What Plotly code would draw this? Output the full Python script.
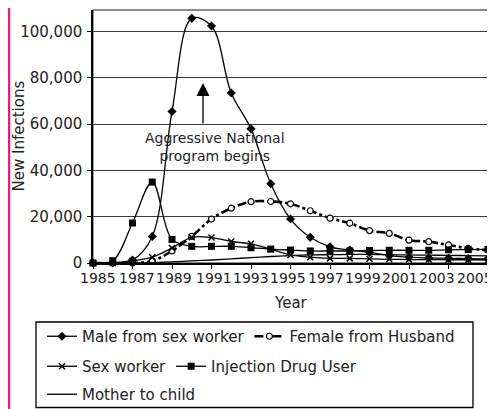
import plotly.graph_objects as go

years = list(range(1985, 2006))
male_sex_worker = [0, 0, 1300, 11500, 65500, 105800, 102500, 73500, 58000, 34300, 19000,
                   11100, 7000, 5600, 4600, 3200, 2500, 2200, 2000, 1900, 1800]
female_husband = [0, 0, 0, 900, 5200, 11500, 19000, 23700, 26500, 26600, 25600,
                  22600, 19400, 17200, 14000, 12800, 9900, 9200, 7800, 6300, 5600]
sex_worker = [0, 0, 1000, 2500, 6500, 11100, 11000, 9300, 8300, 6000, 3500,
              2500, 2000, 2000, 1800, 1600, 1500, 1500, 1400, 1400, 1300]
injection_drug_user = [0, 1000, 17300, 35000, 10200, 7200, 7200, 7200, 6600, 6000, 5600,
                       5200, 5200, 5200, 5400, 5500, 5500, 5500, 5700, 5800, 5900]
mother_to_child = [0, 0, 0, 200, 500, 900, 1300, 1800, 2300, 2800, 3200,
                   3500, 3600, 3700, 3700, 3600, 3500, 3400, 3300, 3200, 3100]

x_ticks = years[::2]
x_ticklabels = [str(y) for y in x_ticks]
y_ticks = [0, 20000, 40000, 60000, 80000, 100000]

FONT = "DejaVu Sans"
TXT = "#222222"

fig = go.Figure()

def add(name, y, legend, marker=None, dash="solid", width=1.3):
    mode = "lines+markers" if marker else "lines"
    fig.add_trace(go.Scatter(
        x=years, y=y, name=name, mode=mode, legend=legend,
        line=dict(color="black", width=width, dash=dash, shape="spline", smoothing=1),
        marker=marker, cliponaxis=False))

add("Male from sex worker", male_sex_worker, "legend",
    dict(symbol="diamond", size=7, color="black"))
add("Female from Husband", female_husband, "legend",
    dict(symbol="circle", size=6, color="white", line=dict(color="black", width=1.2)),
    dash="dashdot", width=2.6)
add("Sex worker", sex_worker, "legend2",
    dict(symbol="x-thin", size=6, color="black", line=dict(color="black", width=1.5)))
add("Injection Drug User", injection_drug_user, "legend2",
    dict(symbol="square", size=7, color="black"))
add("Mother to child", mother_to_child, "legend3")

# page has an 8px body margin: the figure starts at page (8, 8)
OFF = 8
W, H = 495 - OFF, 409 - OFF
# plot area in page pixels
L, R, T, B = 93, 488, 10, 263
def px(xp):
    return (xp - L) / (R - L)
def py(yp):
    return (B - yp) / (B - T)

leg_common = dict(orientation="h", xanchor="left", yanchor="top",
                  bgcolor="rgba(0,0,0,0)", borderwidth=0,
                  font=dict(family=FONT, size=15, color=TXT), itemwidth=30)

# the year labels are packed edge to edge in the original and drift left
# toward the right edge so that "2005" stays inside the page
label_shift_px = [4.5, 4.5, 2.2, 2.2, 0, -2.2, -4.5, -6.7, -8.9, -11.1, -13.4]
tick_label_annotations = [
    dict(text=t, xref="x", yref="paper", x=v, y=py(277.5), xshift=s,
         showarrow=False, xanchor="center", yanchor="middle",
         font=dict(family=FONT, size=14, color=TXT))
    for v, t, s in zip(x_ticks, x_ticklabels, label_shift_px)
]

fig.update_layout(
    width=W, height=H,
    margin=dict(l=L - OFF, r=W - (R - OFF), t=T - OFF, b=H - (B - OFF), pad=0,
                autoexpand=False),
    paper_bgcolor="white", plot_bgcolor="white",
    font=dict(family=FONT, size=15, color=TXT),
    showlegend=True,
    legend=dict(x=px(42), y=py(320), **leg_common),
    legend2=dict(x=px(42), y=py(350), **leg_common),
    legend3=dict(x=px(42), y=py(378), **leg_common),
    xaxis=dict(range=[1985, 2005], tickvals=x_ticks, showticklabels=False,
               showgrid=False, zeroline=False, automargin=False,
               showline=True, linecolor="black", linewidth=1.5,
               ticks="outside", ticklen=4, tickcolor="black"),
    yaxis=dict(range=[0, 109400], tickvals=y_ticks, tickformat=",",
               showgrid=True, gridcolor="#3a3a3a", gridwidth=1, zeroline=False,
               automargin=False,
               showline=True, linecolor="black", linewidth=1.5,
               ticks="outside", ticklen=4, tickcolor="black",
               ticklabelstandoff=2,
               tickfont=dict(family=FONT, size=15, color=TXT)),
    shapes=[
        dict(type="rect", xref="paper", yref="paper", x0=0, y0=0, x1=1, y1=1,
             line=dict(color="#666666", width=1.3), layer="below"),
        dict(type="rect", xref="paper", yref="paper", x0=px(36), y0=py(407.5),
             x1=px(473), y1=py(322), line=dict(color="black", width=1.3)),
        dict(type="line", xref="paper", yref="paper", x0=px(9), x1=px(9),
             y0=py(409), y1=py(0), line=dict(color="#F2168A", width=2.5)),
    ],
    annotations=tick_label_annotations + [
        dict(text="New Infections", xref="paper", yref="paper", x=px(18), y=0.5,
             textangle=-90, showarrow=False, xanchor="center", yanchor="middle",
             font=dict(family=FONT, size=15, color=TXT)),
        dict(text="Year", xref="paper", yref="paper", x=0.5, y=py(303),
             showarrow=False, xanchor="center", yanchor="middle",
             font=dict(family=FONT, size=15, color=TXT)),
        dict(text="Aggressive National<br>program begins", xref="x", yref="y",
             x=1991.18, y=50200, showarrow=False, xanchor="center", yanchor="middle",
             align="center", font=dict(family=FONT, size=14, color=TXT)),
        dict(text="", xref="x", yref="y", x=1990.57, y=77800,
             axref="x", ayref="y", ax=1990.57, ay=59700,
             showarrow=True, arrowhead=2, arrowsize=2, arrowwidth=1.3,
             arrowcolor="black"),
    ],
)

fig.write_html("out.html")
